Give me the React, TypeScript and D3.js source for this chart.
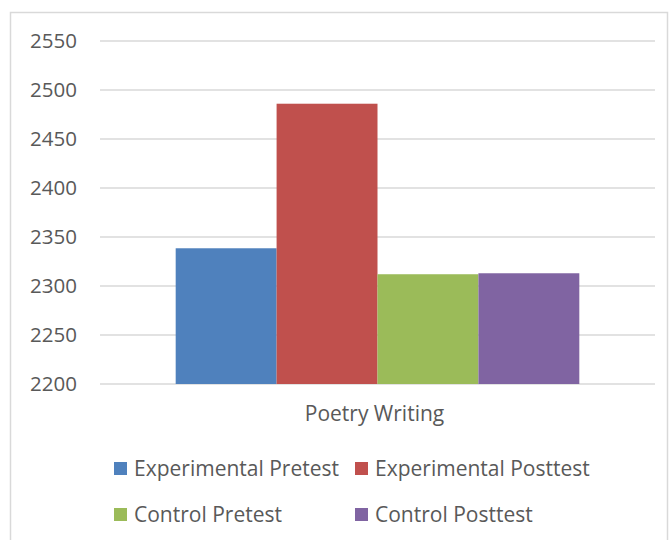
import React from "react";
import * as d3 from "d3";

const categories = ["Poetry Writing"];
const seriesNames = ["Experimental Pretest", "Experimental Posttest", "Control Pretest", "Control Posttest"];
const seriesValues = [2338.5, 2486, 2312, 2313];
const seriesColors = ["#4f81bd", "#c0504d", "#9bbb59", "#8064a2"];
const yTicks = [2200, 2250, 2300, 2350, 2400, 2450, 2500, 2550];

const W = 670;
const H = 540;
const FONT = "'Open Sans', 'Liberation Sans', sans-serif";

export default function App() {
  const plot = { left: 100, right: 655, top: 41, bottom: 384 };

  const y = d3.scaleLinear().domain([2200, 2550]).range([plot.bottom, plot.top]);
  const x = d3.scaleBand().domain(categories).range([plot.left, plot.right]);
  // excel style gap width 150% -> 0.75 bar width on each side of the group
  const groupPad = 0.75;
  const bw = x.bandwidth() / (seriesNames.length + 2 * groupPad);
  const barX = (cat: string, i: number) => (x(cat) as number) + groupPad * bw + i * bw;

  const legendPos = [
    [114, 462],
    [355, 462],
    [114, 508],
    [355, 508],
  ];

  return (
    <svg
      width={W}
      height={H}
      style={{ position: "absolute", left: 0, top: 0, display: "block", background: "#fff" }}
      fontFamily={FONT}
    >
      <rect x={10.5} y={12.5} width={657} height={540} fill="#fff" stroke="#d9d9d9" strokeWidth={1.5} />
      <g>
        {yTicks.map((t) => (
          <g key={t}>
            <line x1={plot.left} x2={plot.right} y1={y(t)} y2={y(t)} stroke="#d9d9d9" strokeWidth={1.5} />
            <text x={77} y={y(t)} dy="0.35em" textAnchor="end" fontSize={20.5} fill="#595959">
              {t}
            </text>
          </g>
        ))}
      </g>
      {categories.map((cat) => (
        <g key={cat}>
          {seriesValues.map((v, i) => (
            <rect
              key={seriesNames[i]}
              x={barX(cat, i)}
              y={y(v)}
              width={bw}
              height={y(2200) - y(v)}
              fill={seriesColors[i]}
            />
          ))}
          <text
            x={(x(cat) as number) + x.bandwidth() / 2 - 3}
            y={414}
            dy="0.35em"
            textAnchor="middle"
            fontSize={21}
            fill="#595959"
          >
            {cat}
          </text>
        </g>
      ))}
      {seriesNames.map((name, i) => (
        <g key={name} transform={`translate(${legendPos[i][0]},${legendPos[i][1]})`}>
          <rect width={13} height={13} fill={seriesColors[i]} />
          <text x={20} y={6.5} dy="0.35em" fontSize={21} fill="#595959">
            {name}
          </text>
        </g>
      ))}
    </svg>
  );
}
